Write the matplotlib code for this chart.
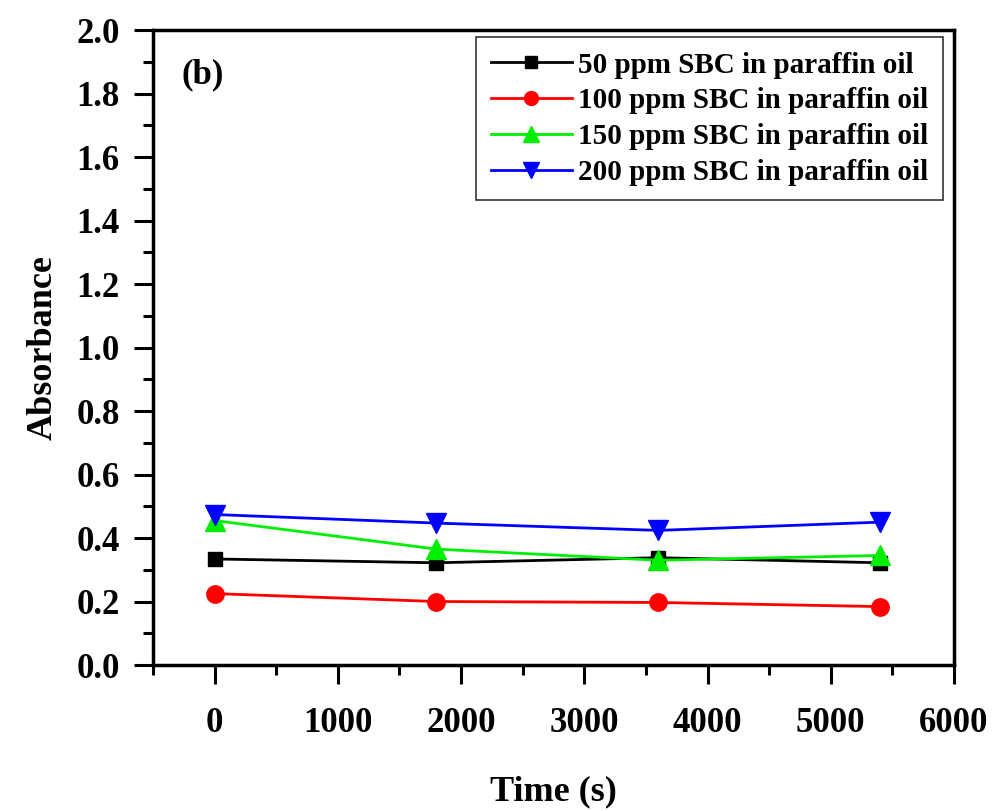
import matplotlib.pyplot as plt
from matplotlib.ticker import MultipleLocator

# --- Data ---
time_s = [0, 1800, 3600, 5400]
abs_50 = [0.334, 0.322, 0.338, 0.322]
abs_100 = [0.225, 0.200, 0.197, 0.184]
abs_150 = [0.455, 0.365, 0.330, 0.345]
abs_200 = [0.474, 0.447, 0.424, 0.450]

labels = ['50 ppm SBC in paraffin oil', '100 ppm SBC in paraffin oil',
          '150 ppm SBC in paraffin oil', '200 ppm SBC in paraffin oil']
colors = ['black', '#ff0000', '#00ee00', '#0000ff']
markers = ['s', 'o', '^', 'v']
msizes = [10, 12.5, 15, 15]

plt.rcParams['font.family'] = 'Liberation Serif'
plt.rcParams['font.weight'] = 'bold'

fig = plt.figure(figsize=(9.95, 8.11), dpi=100)
ax = fig.add_axes([0.1538, 0.180, 0.805, 0.783])

for y, lab, c, m, ms in zip([abs_50, abs_100, abs_150, abs_200], labels, colors, markers, msizes):
    ax.plot(time_s, y, color=c, marker=m, markersize=ms, linewidth=2, label=lab)

ax.set_xlim(-500, 6000)
ax.set_ylim(0, 2.0)
ax.xaxis.set_major_locator(MultipleLocator(1000))
ax.xaxis.set_minor_locator(MultipleLocator(500))
ax.yaxis.set_major_locator(MultipleLocator(0.2))
ax.yaxis.set_minor_locator(MultipleLocator(0.1))
ax.yaxis.set_major_formatter(plt.FormatStrFormatter('%.1f'))

ax.tick_params(which='major', direction='out', length=14, width=2.2, labelsize=25, pad=10)
ax.tick_params(which='minor', direction='out', length=7, width=2.2)
ax.tick_params(axis='x', which='major', pad=16)
for sp in ax.spines.values():
    sp.set_linewidth(2.5)

ax.set_xlabel('Time (s)', fontsize=26, fontweight='bold', labelpad=26)
ax.set_ylabel('Absorbance', fontsize=26, fontweight='bold', labelpad=12)

ax.text(0.035, 0.955, '(b)', transform=ax.transAxes, fontsize=25, fontweight='bold',
        va='top', ha='left')

leg = ax.legend(loc='upper right', bbox_to_anchor=(0.986, 0.989), borderaxespad=0,
                fontsize=21, frameon=True, fancybox=False, edgecolor='black',
                handlelength=2.8, handletextpad=0.2, labelspacing=0.3,
                borderpad=0.5, markerscale=0.8)
leg.get_frame().set_linewidth(1.2)

plt.savefig('out.png', dpi=100)
